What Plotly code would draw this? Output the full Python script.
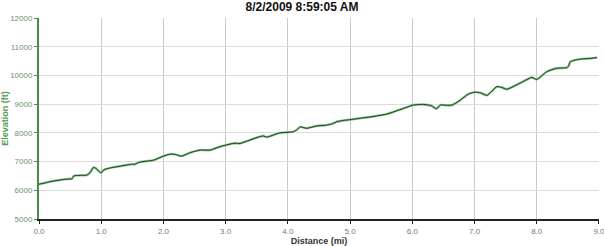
import plotly.graph_objects as go

distance_mi = [0.0, 0.10, 0.18, 0.34, 0.45, 0.53, 0.56, 0.66, 0.77, 0.83, 0.87, 0.91, 0.95, 1.0, 1.03, 1.06,
               1.15, 1.25, 1.41, 1.50, 1.53, 1.62, 1.84, 2.0, 2.11, 2.19, 2.29, 2.43, 2.59, 2.75, 2.91,
               3.07, 3.15, 3.23, 3.39, 3.55, 3.61, 3.66, 3.87, 4.09, 4.15, 4.2, 4.3, 4.46, 4.62, 4.72, 4.79,
               4.89, 5.0, 5.2, 5.4, 5.6, 5.79, 5.92, 6.02, 6.18, 6.30, 6.39, 6.45, 6.55, 6.64, 6.77, 6.9,
               7.01, 7.1, 7.2, 7.36, 7.44, 7.52, 7.73, 7.92, 8.0, 8.16, 8.32, 8.48, 8.51, 8.54, 8.7, 8.85, 8.97]
elevation_ft = [6210, 6260, 6300, 6360, 6390, 6400, 6500, 6520, 6530, 6640, 6790, 6770, 6690, 6610, 6690, 6730,
                6780, 6820, 6880, 6910, 6900, 6980, 7050, 7190, 7260, 7250, 7190, 7310, 7400, 7400, 7520,
                7610, 7640, 7630, 7750, 7870, 7890, 7850, 8000, 8040, 8120, 8210, 8160, 8240, 8270, 8320, 8390,
                8430, 8460, 8520, 8580, 8660, 8800, 8900, 8970, 8990, 8950, 8840, 8970, 8960, 8970, 9140, 9350,
                9420, 9390, 9310, 9610, 9580, 9520, 9730, 9930, 9860, 10130, 10250, 10270, 10320, 10480, 10570, 10590, 10620]

x_ticks = [0, 1, 2, 3, 4, 5, 6, 7, 8, 9]
x_tick_labels = ["0.0", "1.0", "2.0", "3.0", "4.0", "5.0", "6.0", "7.0", "8.0", "9.0"]
y_ticks = [5000, 6000, 7000, 8000, 9000, 10000, 11000, 12000]
y_tick_labels = ["5000", "6000", "7000", "8000", "9000", "10000", "11000", "12000"]

fig = go.Figure()
fig.add_trace(go.Scatter(x=distance_mi, y=elevation_ft, mode="lines",
                         line=dict(color="#8cc48c", width=2.4, shape="spline", smoothing=0.6),
                         hoverinfo="skip", showlegend=False))
fig.add_trace(go.Scatter(x=distance_mi, y=elevation_ft, mode="lines",
                         line=dict(color="#1f3f1f", width=1.0, shape="spline", smoothing=0.6),
                         showlegend=False))

fig.update_layout(
    width=604, height=246,
    margin=dict(l=39, r=5, t=18, b=27),
    paper_bgcolor="white", plot_bgcolor="white",
    title=dict(text="<b>8/2/2009 8:59:05 AM</b>", x=0.5, xanchor="center", y=0.99, yanchor="top",
               font=dict(family="Liberation Sans, Arial, sans-serif", size=12, color="#111111")),
    font=dict(family="Liberation Sans, Arial, sans-serif"),
)
fig.update_xaxes(
    range=[0, 9.0005], tickvals=x_ticks, ticktext=x_tick_labels,
    showgrid=True, gridcolor="#c8c8c8", gridwidth=1,
    showline=True, linecolor="#222222", linewidth=2,
    ticks="outside", ticklen=3, tickcolor="#222222", tickwidth=1,
    tickfont=dict(size=8, color="#777777"), ticklabeloverflow="allow",
    title=dict(text="<b>Distance (mi)</b>", font=dict(size=9, color="#333333"), standoff=0),
    zeroline=False, automargin=False,
)
fig.update_yaxes(
    range=[5000, 12000.5], tickvals=y_ticks, ticktext=y_tick_labels,
    showgrid=True, gridcolor="#dcdcdc", gridwidth=1,
    showline=True, linecolor="#4a8a4a", linewidth=2,
    ticks="outside", ticklen=3, tickcolor="#4a8a4a", tickwidth=1,
    tickfont=dict(size=8, color="#6f8f6f"), ticklabeloverflow="allow",
    title=dict(text="<b>Elevation (ft)</b>", font=dict(size=9, color="#5a9a5a"), standoff=1),
    zeroline=False, automargin=False,
)

fig.write_html("out.html")
